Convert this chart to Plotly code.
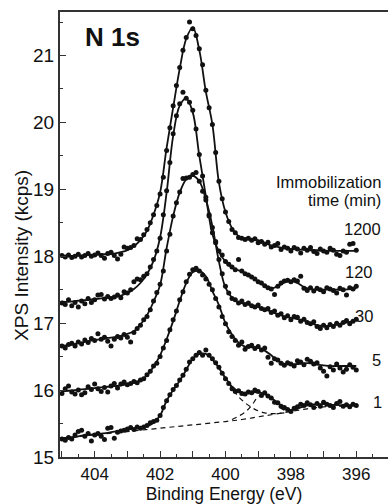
import plotly.graph_objects as go

# ---------------- data ----------------
energy_dots = [round(405.0 - 0.1 * i, 1) for i in range(91)]
energy_fit = [round(405.0 - 0.2 * i, 1) for i in range(46)]

dots_1200 = [18.01, 17.99, 18.02, 17.98, 18.00, 18.03, 17.99, 18.01, 18.04, 18.00,
             18.02, 18.05, 18.01, 17.97, 18.04, 18.06, 18.01, 17.96, 18.03, 18.14,
             18.12, 18.13, 18.16, 18.26, 18.25, 18.32, 18.40, 18.50, 18.62, 18.76,
             18.93, 19.18, 19.58, 19.92, 20.25, 20.55, 20.82, 21.08, 21.27, 21.50,
             21.40, 21.30, 21.10, 20.86, 20.48, 20.22, 19.97, 19.55, 19.12, 18.86,
             18.66, 18.52, 18.40, 18.35, 18.28, 18.27, 18.25, 18.27, 18.24, 18.26,
             18.20, 18.22, 18.18, 18.21, 18.14, 18.16, 18.19, 18.10, 18.14, 18.12,
             18.08, 18.13, 18.11, 18.05, 18.12, 18.09, 18.13, 18.07, 18.04, 18.11,
             18.08, 18.06, 18.12, 18.09, 18.03, 18.01, 18.08, 18.06, 18.18, 18.19,
             18.09]
dots_120 = [17.30, 17.28, 17.35, 17.26, 17.31, 17.24, 17.33, 17.29, 17.37, 17.31,
            17.35, 17.42, 17.43, 17.36, 17.40, 17.37, 17.39, 17.42, 17.38, 17.47,
            17.45, 17.50, 17.62, 17.66, 17.65, 17.70, 17.74, 17.84, 17.95, 18.08,
            18.27, 18.62, 18.98, 19.40, 19.83, 20.10, 20.28, 20.45, 20.36, 20.30,
            20.18, 19.90, 19.52, 19.20, 18.88, 18.60, 18.35, 18.20, 18.08, 18.02,
            17.92, 17.88, 17.84, 17.80, 17.95, 17.78, 17.74, 17.72, 17.69, 17.66,
            17.62, 17.60, 17.56, 17.53, 17.51, 17.43, 17.55, 17.60, 17.63, 17.64,
            17.62, 17.65, 17.63, 17.70, 17.52, 17.49, 17.53, 17.48, 17.52, 17.50,
            17.47, 17.53, 17.51, 17.49, 17.45, 17.52, 17.50, 17.42, 17.53, 17.51,
            17.55]
dots_30 = [16.66, 16.63, 16.68, 16.70, 16.66, 16.72, 16.69, 16.75, 16.71, 16.77,
           16.74, 16.84, 16.76, 16.79, 16.73, 16.66, 16.76, 16.80, 16.78, 16.83,
           16.79, 16.72, 16.86, 16.92, 16.97, 17.05, 17.10, 17.20, 17.33, 17.46,
           17.58, 17.78, 18.08, 18.33, 18.60, 18.80, 18.96, 19.16, 19.17, 19.18,
           19.22, 19.25, 19.12, 18.97, 18.84, 18.62, 18.43, 18.22, 17.95, 17.74,
           17.55, 17.45, 17.37, 17.35, 17.30, 17.33, 17.28, 17.30, 17.26, 17.24,
           17.27, 17.22, 17.20, 17.22, 17.16, 17.18, 17.12, 17.14, 17.08, 17.11,
           17.05, 17.10, 17.09, 17.03, 17.06, 17.01, 16.99, 17.02, 16.95, 16.92,
           16.97, 16.93, 16.98, 16.95, 17.00, 16.97, 17.01, 17.04, 16.99, 17.03,
           17.06]
dots_5 = [15.95, 16.02, 16.06, 15.97, 15.94, 16.00, 15.93, 15.96, 16.05, 16.01,
          16.09, 16.02, 15.98, 16.04, 15.97, 16.06, 16.10, 16.03, 16.09, 16.12,
          16.08, 16.10, 16.13, 16.11, 16.15, 16.17, 16.23, 16.28, 16.36, 16.40,
          16.50, 16.63, 16.74, 16.90, 17.05, 17.18, 17.35, 17.47, 17.62, 17.73,
          17.80, 17.82, 17.78, 17.72, 17.66, 17.58, 17.50, 17.37, 17.24, 17.10,
          16.99, 16.87, 16.80, 16.74, 16.67, 16.72, 16.61, 16.65, 16.67, 16.62,
          16.65, 16.60, 16.63, 16.49, 16.40, 16.47, 16.45, 16.40, 16.37, 16.41,
          16.39, 16.36, 16.44, 16.42, 16.38, 16.46, 16.43, 16.39, 16.41, 16.33,
          16.28, 16.21, 16.35, 16.30, 16.39, 16.33, 16.27, 16.31, 16.38, 16.34,
          16.30]
dots_1 = [15.27, 15.25, 15.29, 15.27, 15.33, 15.38, 15.40, 15.31, 15.35, 15.24,
          15.33, 15.35, 15.31, 15.26, 15.43, 15.44, 15.28, 15.37, 15.39, 15.40,
          15.42, 15.44, 15.41, 15.45, 15.43, 15.45, 15.47, 15.51, 15.53, 15.55,
          15.62, 15.74, 15.84, 15.93, 16.01, 16.07, 16.15, 16.22, 16.31, 16.42,
          16.47, 16.52, 16.56, 16.52, 16.60, 16.52, 16.47, 16.41, 16.34, 16.25,
          16.17, 16.10, 16.02, 15.98, 15.99, 15.95, 15.94, 15.97, 15.96, 16.00,
          15.98, 15.92, 15.96, 15.91, 15.88, 15.82, 15.81, 15.76, 15.74, 15.71,
          15.68, 15.73, 15.75, 15.79, 15.77, 15.81, 15.78, 15.74, 15.80, 15.76,
          15.82, 15.79, 15.77, 15.74, 15.80, 15.83, 15.76, 15.78, 15.75, 15.79,
          15.77]

fit_1200 = [18.00, 18.00, 18.01, 18.01, 18.02, 18.02, 18.03, 18.03, 18.04, 18.06,
            18.09, 18.15, 18.24, 18.38, 18.62, 18.95, 19.62, 20.22, 20.80, 21.25,
            21.42, 21.08, 20.46, 19.97, 19.10, 18.66, 18.42, 18.30, 18.26, 18.25,
            18.24, 18.20, 18.16, 18.14, 18.12, 18.11, 18.10, 18.10, 18.09, 18.09,
            18.08, 18.08, 18.08, 18.08, 18.08, 18.08]
fit_120 = [17.32, 17.32, 17.33, 17.34, 17.35, 17.36, 17.37, 17.38, 17.39, 17.41,
           17.45, 17.51, 17.60, 17.73, 17.93, 18.28, 18.95, 19.80, 20.25, 20.36,
           20.15, 19.50, 18.90, 18.33, 18.07, 17.92, 17.83, 17.79, 17.75, 17.70,
           17.62, 17.56, 17.52, 17.55, 17.61, 17.63, 17.60, 17.54, 17.51, 17.50,
           17.50, 17.50, 17.50, 17.50, 17.51, 17.52]
fit_30 = [16.66, 16.67, 16.69, 16.71, 16.73, 16.75, 16.76, 16.78, 16.79, 16.81,
          16.84, 16.88, 16.98, 17.12, 17.32, 17.57, 18.12, 18.60, 18.95, 19.15,
          19.20, 19.12, 18.85, 18.45, 17.92, 17.53, 17.38, 17.31, 17.29, 17.26,
          17.24, 17.21, 17.17, 17.13, 17.10, 17.08, 17.06, 17.04, 17.00, 16.97,
          16.96, 16.96, 16.98, 17.00, 17.02, 17.04]
fit_5 = [15.98, 15.99, 16.00, 16.01, 16.02, 16.03, 16.04, 16.05, 16.06, 16.07,
         16.09, 16.11, 16.14, 16.22, 16.35, 16.52, 16.76, 17.03, 17.33, 17.60,
         17.76, 17.78, 17.70, 17.48, 17.27, 17.00, 16.83, 16.71, 16.65, 16.64,
         16.63, 16.59, 16.52, 16.44, 16.39, 16.38, 16.39, 16.40, 16.40, 16.38,
         16.37, 16.36, 16.36, 16.36, 16.36, 16.36]
fit_1 = [15.28, 15.29, 15.30, 15.32, 15.33, 15.34, 15.35, 15.36, 15.38, 15.39,
         15.41, 15.42, 15.44, 15.46, 15.51, 15.62, 15.84, 16.00, 16.14, 16.30,
         16.47, 16.54, 16.54, 16.46, 16.33, 16.18, 16.05, 15.98, 15.95, 15.96,
         15.97, 15.94, 15.88, 15.81, 15.74, 15.70, 15.72, 15.76, 15.78, 15.79,
         15.79, 15.78, 15.78, 15.77, 15.77, 15.77]

bg_energy = [405.0, 404.0, 403.0, 402.0, 401.0, 400.0, 399.5, 399.0, 398.5, 398.0,
             397.5, 397.0, 396.5, 396.0]
bg_values = [15.28, 15.33, 15.38, 15.43, 15.48, 15.53, 15.56, 15.60, 15.64, 15.68,
             15.72, 15.75, 15.76, 15.77]
main_comp_energy = [400.2, 400.0, 399.8, 399.6, 399.4, 399.2, 399.0, 398.8, 398.6, 398.4, 398.2]
main_comp_values = [16.33, 16.17, 16.03, 15.90, 15.81, 15.74, 15.69, 15.66, 15.65, 15.65, 15.66]
small_comp_energy = [399.8, 399.6, 399.4, 399.2, 399.0, 398.8, 398.6, 398.4, 398.2, 398.0]
small_comp_values = [15.56, 15.61, 15.67, 15.77, 15.90, 15.94, 15.87, 15.77, 15.70, 15.68]

curve_labels = ["1200", "120", "30", "5", "1"]
label_x = [395.18, 395.43, 395.43, 395.18, 395.15]
label_y = [18.41, 17.76, 17.11, 16.45, 15.82]

x_tick_vals = [396, 397, 398, 399, 400, 401, 402, 403, 404, 405]
x_tick_text = ["396", "", "398", "", "400", "", "402", "", "404", ""]
x_minor_vals = [395.5, 396.5, 397.5, 398.5, 399.5, 400.5, 401.5, 402.5, 403.5, 404.5]
y_tick_vals = [15, 16, 17, 18, 19, 20, 21]
y_tick_text = ["15", "16", "17", "18", "19", "20", "21"]
y_minor_vals = [15.5, 16.5, 17.5, 18.5, 19.5, 20.5, 21.5]

# ---------------- figure ----------------
fig = go.Figure()
ink = "#111111"

for d in [dots_1200, dots_120, dots_30, dots_5, dots_1]:
    fig.add_trace(go.Scatter(x=energy_dots, y=d, mode="markers",
                             marker=dict(size=5, color=ink), showlegend=False,
                             hoverinfo="skip"))
for f in [fit_1200, fit_120, fit_30, fit_5, fit_1]:
    fig.add_trace(go.Scatter(x=energy_fit, y=f, mode="lines",
                             line=dict(color=ink, width=1.8, shape="spline", smoothing=1.0),
                             showlegend=False, hoverinfo="skip"))
for ex, ey in [(bg_energy, bg_values), (main_comp_energy, main_comp_values),
               (small_comp_energy, small_comp_values)]:
    fig.add_trace(go.Scatter(x=ex, y=ey, mode="lines",
                             line=dict(color=ink, width=1.2, dash="5px,4px", shape="spline"),
                             showlegend=False, hoverinfo="skip"))

font_family = "Liberation Sans, Arial, sans-serif"

annotations = []
for t, lx, ly in zip(curve_labels, label_x, label_y):
    annotations.append(dict(x=lx, y=ly, xref="x", yref="y", text=t, showarrow=False,
                            xanchor="right", yanchor="middle",
                            font=dict(size=16.5, color=ink, family=font_family)))
annotations.append(dict(x=395.18, y=19.11, xref="x", yref="y", text="Immobilization",
                        showarrow=False, xanchor="right", yanchor="middle",
                        font=dict(size=16.5, color=ink, family=font_family)))
annotations.append(dict(x=395.18, y=18.84, xref="x", yref="y", text="time (min)",
                        showarrow=False, xanchor="right", yanchor="middle",
                        font=dict(size=16.5, color=ink, family=font_family)))
annotations.append(dict(x=403.45, y=21.28, xref="x", yref="y", text="<b>N 1s</b>",
                        showarrow=False, xanchor="center", yanchor="middle",
                        font=dict(size=26, color=ink, family=font_family)))
annotations.append(dict(x=-0.116, y=0.454, xref="paper", yref="paper",
                        text="XPS Intensity (kcps)", showarrow=False, textangle=-90,
                        xanchor="center", yanchor="middle",
                        font=dict(size=19, color=ink, family=font_family)))

fig.update_layout(
    width=388, height=504,
    margin=dict(l=60, r=0, t=12, b=47),
    paper_bgcolor="white", plot_bgcolor="white",
    font=dict(family=font_family, size=19, color=ink),
    annotations=annotations,
    showlegend=False,
)
fig.update_xaxes(
    range=[405.06, 395.03], showgrid=False, zeroline=False, automargin=False,
    showline=True, linecolor="#333333", linewidth=2, mirror=True,
    tickmode="array", tickvals=x_tick_vals, ticktext=x_tick_text,
    ticks="inside", ticklen=6, tickwidth=1.3, tickcolor="#333333",
    ticklabelstandoff=1,
    minor=dict(tickmode="array", tickvals=x_minor_vals, ticks="inside",
               ticklen=3, tickwidth=1.3, tickcolor="#333333"),
    tickfont=dict(size=17, color=ink, family=font_family),
    title=dict(text="Binding Energy (eV)", standoff=5,
               font=dict(size=17.5, color=ink, family=font_family)),
)
fig.update_yaxes(
    range=[15, 21.65], showgrid=False, zeroline=False, automargin=False,
    showline=True, linecolor="#333333", linewidth=2, mirror=False,
    tickmode="array", tickvals=y_tick_vals, ticktext=y_tick_text,
    ticks="inside", ticklen=6, tickwidth=1.3, tickcolor="#333333",
    minor=dict(tickmode="array", tickvals=y_minor_vals, ticks="inside",
               ticklen=3, tickwidth=1.3, tickcolor="#333333"),
    tickfont=dict(size=19, color=ink, family=font_family),
)

fig.write_html("out.html")
